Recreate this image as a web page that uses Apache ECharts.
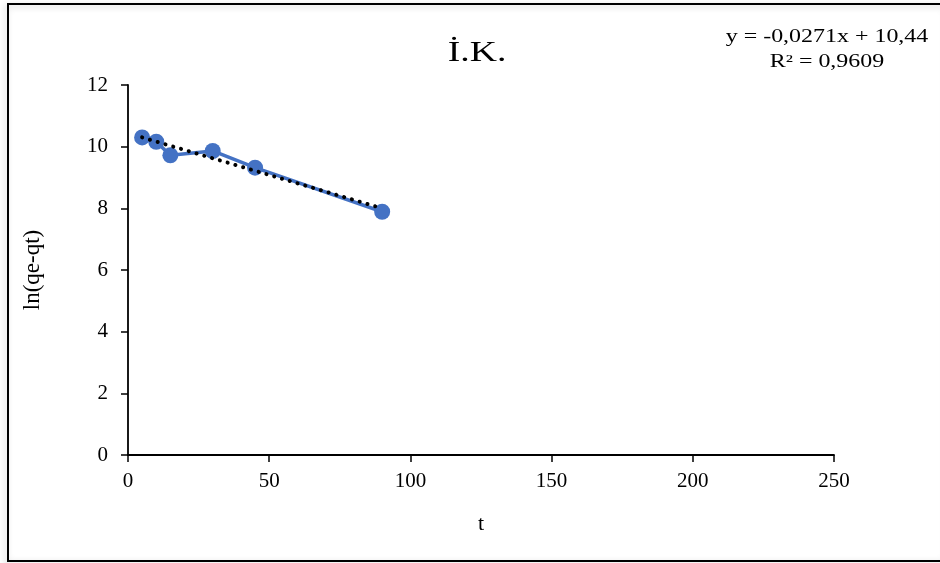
<!DOCTYPE html>
<html>
<head>
<meta charset="utf-8">
<script src="https://cdn.jsdelivr.net/npm/echarts@6/dist/echarts.min.js"></script>
<style>
  html, body { margin: 0; padding: 0; background: #fff; }
  #chart { width: 940px; height: 563px; }
</style>
</head>
<body>
<div id="chart"></div>
<script>
// data
var tValues = [5, 10, 15, 30, 45, 90];
var lnValues = [10.30, 10.16, 9.72, 9.86, 9.32, 7.89];
// trendline end points (y = -0,0271x + 10,44)
var trendT = [5, 90];
var trendLn = [10.30, 8.00];
var titleText = 'İ.K.';
var eqText = 'y = -0,0271x + 10,44';
var r2Text = 'R² = 0,9609';

var serif = '"Liberation Serif", "Times New Roman", serif';

function pairs(xs, ys) {
    return xs.map(function (x, i) { return [x, ys[i]]; });
}

var myChart = echarts.init(document.getElementById('chart'));
var option = {
    animation: false,
    backgroundColor: '#fff',
    graphic: [
        {
            type: 'rect',
            shape: { x: 8, y: 4, width: 940, height: 557 },
            style: { fill: 'none', stroke: '#000', lineWidth: 2, shadowBlur: 6, shadowColor: 'rgba(0,0,0,0.2)', shadowOffsetX: -2, shadowOffsetY: 2 }
        },
        {
            // title text is stretched sideways in the original
            type: 'text',
            x: 477, y: 68, scaleX: 1.3,
            style: { text: titleText, font: '29px ' + serif, fill: '#000', align: 'center', verticalAlign: 'bottom' }
        },
        {
            type: 'text',
            x: 827, y: 46, scaleX: 1.33,
            style: { text: eqText, font: '18px ' + serif, fill: '#000', align: 'center', verticalAlign: 'bottom' }
        },
        {
            type: 'text',
            x: 827, y: 71, scaleX: 1.33,
            style: { text: r2Text, font: '18px ' + serif, fill: '#000', align: 'center', verticalAlign: 'bottom' }
        }
    ],
    grid: { left: 128, right: 106, top: 85, bottom: 108 },
    xAxis: {
        type: 'value',
        min: 0, max: 250, interval: 50,
        name: 't',
        nameLocation: 'middle',
        nameGap: 58,
        nameTextStyle: { fontFamily: serif, fontSize: 22, color: '#000' },
        axisLine: { lineStyle: { color: '#000', width: 1.8 } },
        axisTick: { show: true, length: 7, lineStyle: { color: '#000', width: 1.5 } },
        axisLabel: { fontFamily: serif, fontSize: 21, color: '#000', margin: 16 },
        splitLine: { show: false }
    },
    yAxis: {
        type: 'value',
        min: 0, max: 12, interval: 2,
        name: 'ln(qe-qt)',
        nameLocation: 'middle',
        nameGap: 84,
        nameTextStyle: { fontFamily: serif, fontSize: 23, color: '#000' },
        axisLine: { show: true, lineStyle: { color: '#000', width: 1.8 } },
        axisTick: { show: true, length: 7, lineStyle: { color: '#000', width: 1.5 } },
        axisLabel: { fontFamily: serif, fontSize: 21, color: '#000', margin: 20 },
        splitLine: { show: false }
    },
    series: [
        {
            type: 'line',
            data: pairs(tValues, lnValues),
            symbol: 'circle',
            symbolSize: 16,
            itemStyle: { color: '#4472C4' },
            lineStyle: { color: '#4472C4', width: 3.5 },
            z: 2
        },
        {
            type: 'line',
            data: pairs(trendT, trendLn),
            symbol: 'none',
            lineStyle: { color: '#000', width: 4, type: [0.1, 8], cap: 'round' },
            z: 3
        }
    ]
};
myChart.setOption(option);
</script>
</body>
</html>
